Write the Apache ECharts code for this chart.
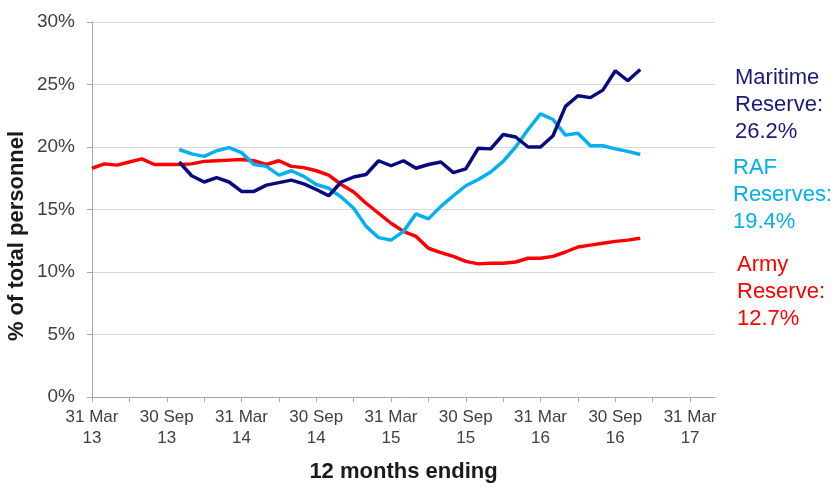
<!DOCTYPE html>
<html>
<head>
<meta charset="utf-8">
<script src="https://cdn.jsdelivr.net/npm/echarts@6/dist/echarts.min.js"></script>
<style>
html,body{margin:0;padding:0;background:#fff;}
#chart{width:840px;height:488px;}
</style>
</head>
<body>
<div id="chart"></div>
<script>
// Monthly categories, 31 Mar 13 .. 31 May 17
const categories = [
  "31 Mar\n13","30 Apr\n13","31 May\n13","30 Jun\n13","31 Jul\n13","31 Aug\n13","30 Sep\n13","31 Oct\n13","30 Nov\n13","31 Dec\n13",
  "31 Jan\n14","28 Feb\n14","31 Mar\n14","30 Apr\n14","31 May\n14","30 Jun\n14","31 Jul\n14","31 Aug\n14","30 Sep\n14","31 Oct\n14","30 Nov\n14","31 Dec\n14",
  "31 Jan\n15","28 Feb\n15","31 Mar\n15","30 Apr\n15","31 May\n15","30 Jun\n15","31 Jul\n15","31 Aug\n15","30 Sep\n15","31 Oct\n15","30 Nov\n15","31 Dec\n15",
  "31 Jan\n16","29 Feb\n16","31 Mar\n16","30 Apr\n16","31 May\n16","30 Jun\n16","31 Jul\n16","31 Aug\n16","30 Sep\n16","31 Oct\n16","30 Nov\n16","31 Dec\n16",
  "31 Jan\n17","28 Feb\n17","31 Mar\n17","30 Apr\n17","31 May\n17"
];

const army = [18.3,18.65,18.55,18.8,19.05,18.6,18.6,18.6,18.65,18.85,18.9,18.95,19.0,18.9,18.6,18.9,18.45,18.35,18.1,17.75,17.0,16.4,15.5,14.7,13.9,13.25,12.85,11.9,11.55,11.25,10.85,10.65,10.7,10.7,10.8,11.1,11.1,11.25,11.6,12.0,12.15,12.3,12.45,12.55,12.7];

const maritime = [null,null,null,null,null,null,null,18.8,17.7,17.2,17.55,17.2,16.45,16.45,16.95,17.15,17.35,17.05,16.6,16.1,17.2,17.6,17.8,18.9,18.5,18.9,18.3,18.6,18.8,17.95,18.25,19.9,19.85,21.0,20.8,20.0,20.0,20.9,23.25,24.1,23.95,24.55,26.1,25.3,26.2];

const raf = [null,null,null,null,null,null,null,19.8,19.45,19.25,19.7,19.95,19.55,18.6,18.45,17.75,18.1,17.65,17.0,16.7,16.0,15.1,13.65,12.75,12.55,13.25,14.65,14.25,15.25,16.1,16.9,17.4,18.0,18.85,20.0,21.4,22.65,22.2,20.95,21.1,20.1,20.1,19.85,19.65,19.4];

const seriesNames = ["Army Reserve","RAF Reserves","Maritime Reserve"];
const labelNames = [["Army","Reserve:"],["RAF","Reserves:"],["Maritime","Reserve:"]];
const colors = ["#ff0000","#00b0f0","#0a0a80"];
const labelColors = ["#ff0000","#00b0f0","#1a1a7a"];
const allData = [army, raf, maritime];

const FONT = "'Liberation Sans', Arial, sans-serif";
const chart = echarts.init(document.getElementById('chart'), null, {renderer:'canvas'});

const labelPos = [[737,251],[733,154],[735,64]];
const graphics = allData.map((d,k)=>({
  type:'text', left:labelPos[k][0], top:labelPos[k][1],
  style:{
    text: labelNames[k][0] + "\n" + labelNames[k][1] + "\n" + d[d.length-1].toFixed(1) + "%",
    fill: labelColors[k], font: "22px " + FONT, lineHeight: 27
  }
}));
graphics.push({
  type:'text', x:17, y:236, rotation:Math.PI/2,
  style:{text:'% of total personnel', fill:'#1a1a1a', font:"bold 22px " + FONT,
         textAlign:'center', textVerticalAlign:'middle'}
});

chart.setOption({
  animation:false,
  grid:{left:92,right:125,top:22,bottom:82,containLabel:false},
  xAxis:{
    type:'category', data:categories, boundaryGap:false,
    name:'12 months ending', nameLocation:'middle', nameGap:64,
    nameTextStyle:{fontFamily:FONT,fontSize:22,fontWeight:'bold',color:'#1a1a1a'},
    axisLine:{lineStyle:{color:'#a6a6a6',width:1}},
    axisTick:{show:true,interval:2,length:5,lineStyle:{color:'#a6a6a6'}},
    axisLabel:{interval:5,fontFamily:FONT,fontSize:17,color:'#404040',lineHeight:21,margin:10},
    splitLine:{show:false}
  },
  yAxis:{
    type:'value', min:0, max:30, interval:5,
    axisLine:{show:true,lineStyle:{color:'#a6a6a6',width:1}},
    axisTick:{show:true,length:5,lineStyle:{color:'#a6a6a6'}},
    axisLabel:{formatter:'{value}%',fontFamily:FONT,fontSize:19,color:'#404040',margin:17},
    splitLine:{lineStyle:{color:'#d9d9d9',width:1}}
  },
  series: allData.map((d,k)=>({
    name:seriesNames[k], type:'line', data:d, symbol:'none', smooth:false,
    connectNulls:false,
    lineStyle:{color:colors[k],width:3.5}, itemStyle:{color:colors[k]}
  })),
  graphic: graphics
});
</script>
</body>
</html>
